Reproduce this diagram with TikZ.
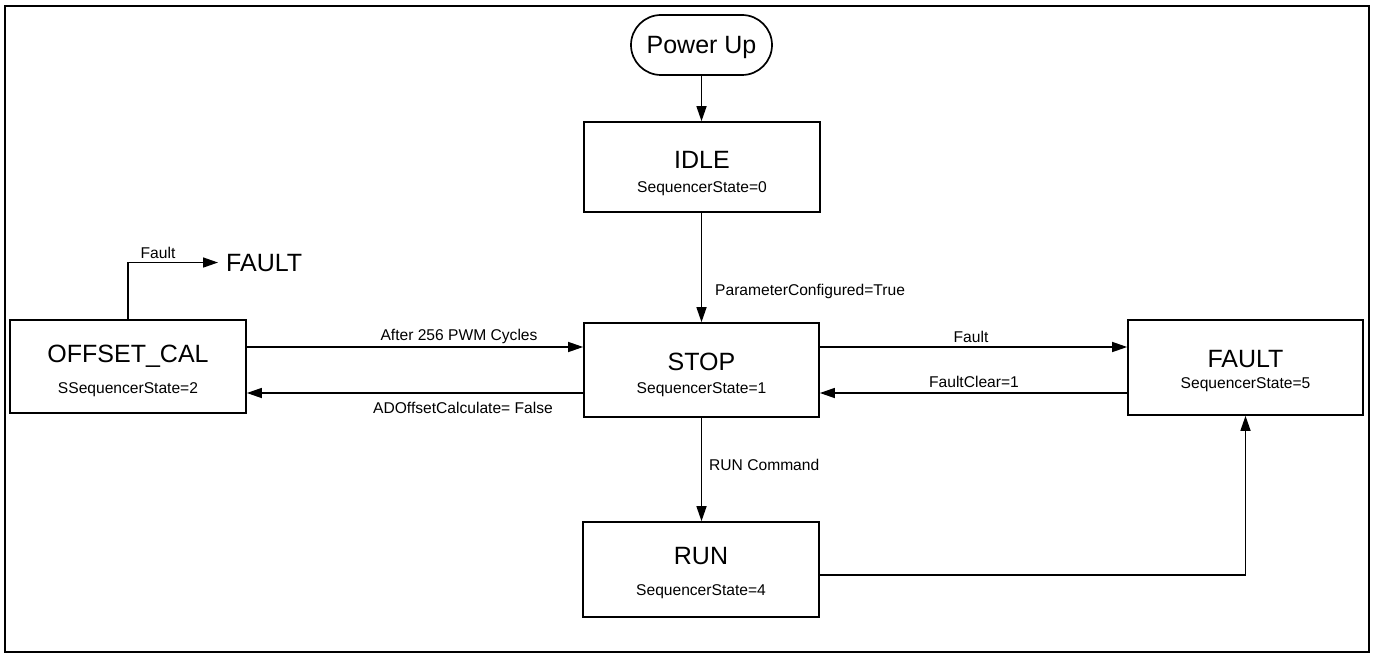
\documentclass[tikz,border=0pt]{standalone}
\usepackage{fontspec}
\setmainfont{Liberation Sans}
\usetikzlibrary{arrows.meta}
\begin{document}
\begin{tikzpicture}[x=1pt,y=-1pt,
  box/.style={draw,line width=1.7pt,inner sep=0pt},
  big/.style={font=\fontsize{25}{29}\selectfont,inner sep=0pt,anchor=base},
  small/.style={font=\fontsize{15.6}{18}\selectfont,inner sep=0pt,anchor=base},
  lbl/.style={font=\fontsize{15.6}{18}\selectfont,inner sep=0pt,anchor=base},
  arr/.style={line width=1.5pt,-{Triangle[length=15pt,width=10pt]}},
  ln/.style={line width=1.5pt}]
\useasboundingbox (0,0) rectangle (1375,658);
\draw[line width=1.8pt] (5,6) rectangle (1369,652);

% nodes
\node[box,rounded corners=30pt,minimum width=141pt,minimum height=60pt] (pu) at (701.5,45) {};
\node[big] (puT) at (701.5,54) {Power Up};

\node[box,minimum width=236pt,minimum height=90pt] (idle) at (702,167) {};
\node[big] (idleT) at (702,168) {IDLE};
\node[small] (idleS) at (702,192) {SequencerState=0};

\node[box,minimum width=235pt,minimum height=94pt] (stop) at (701.5,370) {};
\node[big] (stopT) at (701.5,370) {STOP};
\node[small] (stopS) at (701.5,393) {SequencerState=1};

\node[box,minimum width=236pt,minimum height=93pt] (off) at (128,366.5) {};
\node[big] (offT) at (128,362) {OFFSET\_CAL};
\node[small] (offS) at (128,393) {SSequencerState=2};

\node[box,minimum width=235pt,minimum height=95pt] (fault) at (1245.5,367.5) {};
\node[big] (faultT) at (1245.5,367) {FAULT};
\node[small] (faultS) at (1245.5,388) {SequencerState=5};

\node[box,minimum width=236pt,minimum height=95pt] (run) at (701,569.5) {};
\node[big] (runT) at (701,564) {RUN};
\node[small] (runS) at (701,595) {SequencerState=4};

\node[big,anchor=base west] (ftxt) at (226,271) {FAULT};

% helper coordinates
\coordinate (yA) at (0,347);
\coordinate (yB) at (0,393);
\coordinate (yR) at (0,575);

% connectors
\draw[arr] (pu.south) -- (pu.south |- idle.north);
\draw[arr] (idle.south -| pu.south) -- (pu.south |- stop.north);
\draw[arr] (off.east |- yA) -- (stop.west |- yA);
\draw[arr] (stop.west |- yB) -- (off.east |- yB);
\draw[arr] (stop.east |- yA) -- (fault.west |- yA);
\draw[arr] (fault.west |- yB) -- (stop.east |- yB);
\draw[arr] (stop.south) -- (stop.south |- run.north);
\draw[arr] (run.east |- yR) -| (fault.south);
\draw[arr] (off.north) |- ([xshift=-8pt]ftxt.west);

% labels
\node[lbl,anchor=base west] (l1) at (715,295) {ParameterConfigured=True};
\node[lbl] (l2) at (459,340) {After 256 PWM Cycles};
\node[lbl] (l3) at (463,413) {ADOffsetCalculate= False};
\node[lbl] (l4) at (971,342) {Fault};
\node[lbl] (l5) at (974,387) {FaultClear=1};
\node[lbl,anchor=base west] (l6) at (709,470) {RUN Command};
\node[lbl] (l7) at (158,258) {Fault};
\end{tikzpicture}
\end{document}
